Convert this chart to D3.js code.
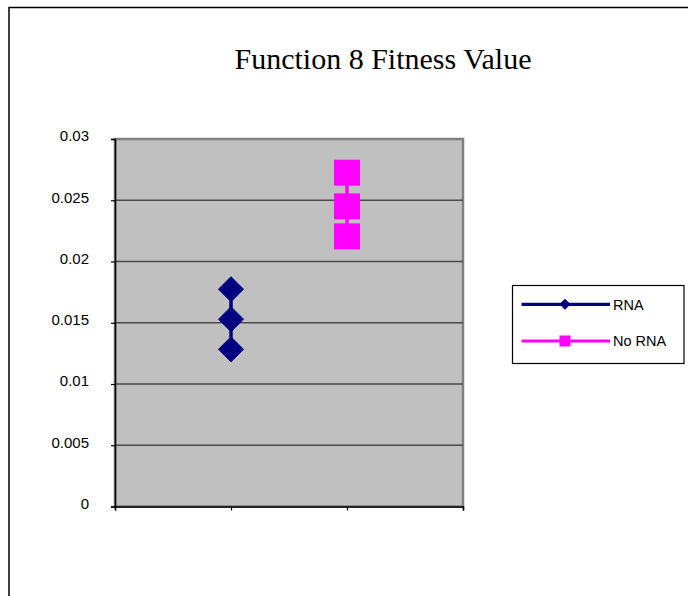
<!DOCTYPE html>
<html>
<head>
<meta charset="utf-8">
<script src="https://cdn.jsdelivr.net/npm/d3@7"></script>
<style>
  html, body { margin: 0; padding: 0; background: #fff; }
  svg { display: block; }
</style>
</head>
<body>
<div id="chart"></div>
<script>
// ---- data ----
const title = "Function 8 Fitness Value";
const seriesNames = ["RNA", "No RNA"];
const seriesX = [1, 2];
const rnaValues = [0.01774, 0.01529, 0.01283];
const noRnaValues = [0.02725, 0.0245, 0.02205];
const yTickValues = [0, 0.005, 0.01, 0.015, 0.02, 0.025, 0.03];
const yTickLabels = ["0", "0.005", "0.01", "0.015", "0.02", "0.025", "0.03"];
const xTickValues = [0, 1, 2, 3];
const seriesColors = ["#000080", "#FF00FF"];
const seriesMarkers = ["diamond", "square"];

const W = 688, H = 596;
const plot = { left: 115, right: 463, top: 139, bottom: 506.5 };

const svg = d3.select("#chart").append("svg").attr("width", W).attr("height", H);
svg.append("rect").attr("width", W).attr("height", H).attr("fill", "#fff");

// outer chart frame
svg.append("rect").attr("x", 9).attr("y", 7.5).attr("width", 800).attr("height", 800)
  .attr("fill", "none").attr("stroke", "#000").attr("stroke-width", 1.5);

// title
svg.append("text").attr("x", 383).attr("y", 69).attr("text-anchor", "middle")
  .attr("font-family", "'Liberation Serif', 'Times New Roman', serif")
  .attr("font-size", 30).attr("fill", "#000").text(title);

const x = d3.scaleLinear().domain([0, 3]).range([plot.left, plot.right]);
const y = d3.scaleLinear().domain([0, 0.03]).range([plot.bottom, plot.top]);

// plot area
svg.append("rect").attr("x", plot.left).attr("y", plot.top)
  .attr("width", plot.right - plot.left).attr("height", plot.bottom - plot.top)
  .attr("fill", "#C0C0C0").attr("stroke", "#808080").attr("stroke-width", 2.5);

// gridlines
svg.append("g").selectAll("line").data(yTickValues.filter(v => v > 0 && v < 0.03)).join("line")
  .attr("x1", plot.left).attr("x2", plot.right)
  .attr("y1", d => y(d)).attr("y2", d => y(d))
  .attr("stroke", "#4a4a4a").attr("stroke-width", 1.4);

// y axis
const yAxis = d3.axisLeft(y).tickValues(yTickValues)
  .tickFormat((d, i) => yTickLabels[i]).tickSize(4).tickPadding(22);
const gy = svg.append("g").attr("transform", `translate(${plot.left},0)`).call(yAxis);
gy.select(".domain").attr("stroke", "#000").attr("stroke-width", 1.5);
gy.selectAll(".tick line").attr("stroke", "#000").attr("stroke-width", 1.2);
gy.selectAll(".tick text").attr("font-family", "'Liberation Sans', Arial, sans-serif")
  .attr("font-size", 15).attr("fill", "#000").attr("dy", "0.12em");

// x axis
const xAxis = d3.axisBottom(x).tickValues(xTickValues).tickFormat("").tickSize(4);
const gx = svg.append("g").attr("transform", `translate(0,${plot.bottom})`).call(xAxis);
gx.select(".domain").attr("stroke", "#000").attr("stroke-width", 1.5);
gx.selectAll(".tick line").attr("stroke", "#000").attr("stroke-width", 1.2);

// series
const allSeries = [rnaValues, noRnaValues];
const line = d3.line().x(d => x(d.x)).y(d => y(d.y));
function markerPath(type, s) {
  if (type === "diamond") {
    return d3.symbol().type(d3.symbolDiamond2 || d3.symbolSquare).size(s * s)();
  }
  return d3.symbol().type(d3.symbolSquare).size(s * s)();
}
function drawMarker(g, type, cx, cy, size, color) {
  if (type === "diamond") {
    const h = size / 2;
    g.append("path").attr("d", `M${cx},${cy - h}L${cx + h},${cy}L${cx},${cy + h}L${cx - h},${cy}Z`)
      .attr("fill", color).attr("stroke", color).attr("stroke-width", 1).attr("stroke-linejoin", "round");
  } else {
    g.append("rect").attr("x", cx - size / 2).attr("y", cy - size / 2)
      .attr("width", size).attr("height", size).attr("fill", color);
  }
}
allSeries.forEach((vals, i) => {
  const pts = vals.map(v => ({ x: seriesX[i], y: v }));
  const g = svg.append("g");
  g.append("path").attr("d", line(pts)).attr("fill", "none")
    .attr("stroke", seriesColors[i]).attr("stroke-width", 3.5);
  pts.forEach(p => drawMarker(g, seriesMarkers[i], x(p.x), y(p.y), i === 0 ? 25 : 26, seriesColors[i]));
});

// legend
const lg = svg.append("g");
lg.append("rect").attr("x", 512.5).attr("y", 285.5).attr("width", 171.5).attr("height", 78)
  .attr("fill", "#fff").attr("stroke", "#000").attr("stroke-width", 1.2);
const legendY = [304.3, 341];
seriesNames.forEach((name, i) => {
  const ly = legendY[i];
  lg.append("line").attr("x1", 521.5).attr("x2", 610).attr("y1", ly).attr("y2", ly)
    .attr("stroke", seriesColors[i]).attr("stroke-width", 3.2);
  drawMarker(lg, seriesMarkers[i], 565, ly, i === 0 ? 10 : 11, seriesColors[i]);
  lg.append("text").attr("x", 613).attr("y", ly).attr("dy", "0.36em")
    .attr("font-family", "'Liberation Sans', Arial, sans-serif").attr("font-size", 14.5)
    .attr("fill", "#000").text(name);
});
</script>
</body>
</html>
